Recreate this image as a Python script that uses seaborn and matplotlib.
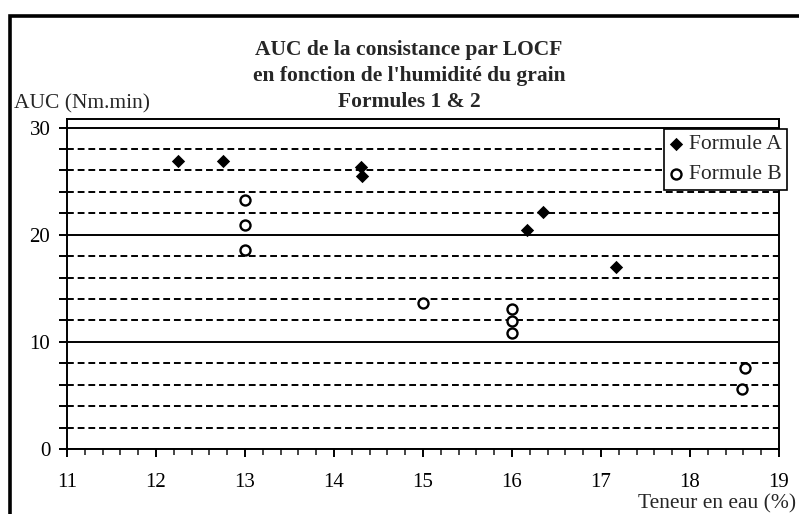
import matplotlib
matplotlib.use("Agg")
import matplotlib.pyplot as plt
import seaborn as sns
import pandas as pd
from matplotlib.ticker import MultipleLocator, FixedLocator, NullFormatter
from matplotlib.patches import Rectangle

# Teneur en eau (%) et AUC (Nm.min) pour chaque formule
humidite_a = [12.25, 12.75, 14.30, 14.32, 16.17, 16.35, 17.17]
auc_a = [26.9, 26.9, 26.3, 25.5, 20.4, 22.1, 17.0]
humidite_b = [13.0, 13.0, 13.0, 15.0, 16.0, 16.0, 16.0, 18.62, 18.58]
auc_b = [23.2, 20.9, 18.6, 13.6, 13.1, 11.95, 10.8, 7.6, 5.6]

series_names = ["Formule A", "Formule B"]
title_lines = [
    "AUC de la consistance par LOCF",
    "en fonction de l'humidité du grain",
    "Formules 1 & 2",
]
x_ticks = [11, 12, 13, 14, 15, 16, 17, 18, 19]
y_ticks = [0, 10, 20, 30]
y_label = "AUC (Nm.min)"
x_label = "Teneur en eau (%)"

df_a = pd.DataFrame({"humidite": humidite_a, "auc": auc_a})
df_b = pd.DataFrame({"humidite": humidite_b, "auc": auc_b})

sns.set_theme(style="white")
plt.rcParams["font.family"] = ["Liberation Serif", "DejaVu Serif"]

W, H = 799, 514
fig = plt.figure(figsize=(W / 100, H / 100), dpi=100)
fig.patch.set_facecolor("white")

ax_left, ax_right, ax_top, ax_bottom = 67, 779, 119, 449
ax = fig.add_axes([ax_left / W, 1 - ax_bottom / H,
                   (ax_right - ax_left) / W, (ax_bottom - ax_top) / H])
ax.set_facecolor("white")

# Outer chart frame (runs off the right and bottom edges)
frame = Rectangle((10 / W, -0.05), 1.1, 1 - 16 / H + 0.05,
                  transform=fig.transFigure, fill=False,
                  edgecolor="black", linewidth=2.6, clip_on=False, zorder=0)
fig.patches.append(frame)

sns.scatterplot(data=df_a, x="humidite", y="auc", ax=ax, marker="D",
                s=46, color="black", edgecolor="black", linewidth=0,
                label=series_names[0], zorder=4)
sns.scatterplot(data=df_b, x="humidite", y="auc", ax=ax, marker="o",
                s=52, facecolor="white", edgecolor="black", linewidth=1.7,
                label=series_names[1], zorder=4)

ax.set_xlim(11, 19)
ax.set_ylim(0, 30.8)

ax.xaxis.set_major_locator(FixedLocator(x_ticks))
ax.xaxis.set_minor_locator(MultipleLocator(0.2))
ax.yaxis.set_major_locator(FixedLocator(y_ticks))
ax.yaxis.set_minor_locator(MultipleLocator(2))
ax.yaxis.set_minor_formatter(NullFormatter())
ax.set_xticklabels([str(v) for v in x_ticks])
ax.set_yticklabels([str(v) for v in y_ticks])

ax.tick_params(axis="x", which="major", direction="out", length=6, width=1.4,
               pad=11, labelsize=15, colors="black", bottom=True)
ax.tick_params(axis="x", which="minor", direction="out", length=4.5, width=1.2,
               bottom=True)
ax.tick_params(axis="y", which="both", direction="out", length=6, width=1.4,
               pad=6, labelsize=15, colors="black", left=True)

ax.yaxis.grid(True, which="major", color="black", linestyle="-", linewidth=1.4)
ax.yaxis.grid(True, which="minor", color="black", linestyle=(0, (3.5, 2.0)),
              linewidth=1.4)
ax.xaxis.grid(False)
ax.set_axisbelow(True)

for side in ["left", "bottom", "top", "right"]:
    ax.spines[side].set_visible(True)
    ax.spines[side].set_color("black")
    ax.spines[side].set_linewidth(1.4)

ax.set_xlabel("")
ax.set_ylabel("")

leg = ax.legend(loc="upper right", bbox_to_anchor=(787 / W, 1 - 129 / H),
                bbox_transform=fig.transFigure, borderaxespad=0,
                frameon=True, fancybox=False, framealpha=1,
                edgecolor="black", fontsize=15.5, handlelength=0.6,
                handletextpad=0.3, borderpad=0.25, labelspacing=0.45,
                markerscale=1.0)
leg.get_frame().set_linewidth(1.2)
leg.set_zorder(10)

for line, base in zip(title_lines, [55, 81, 107]):
    fig.text(409 / W, 1 - base / H, line, ha="center", va="baseline",
             fontsize=15.5, fontweight="bold")

fig.text(14 / W, 1 - 108 / H, y_label, ha="left", va="baseline", fontsize=15.5)
fig.text(796 / W, 1 - 508 / H, x_label, ha="right", va="baseline", fontsize=15.5)

fig.savefig("out.png", dpi=100, facecolor="white")
